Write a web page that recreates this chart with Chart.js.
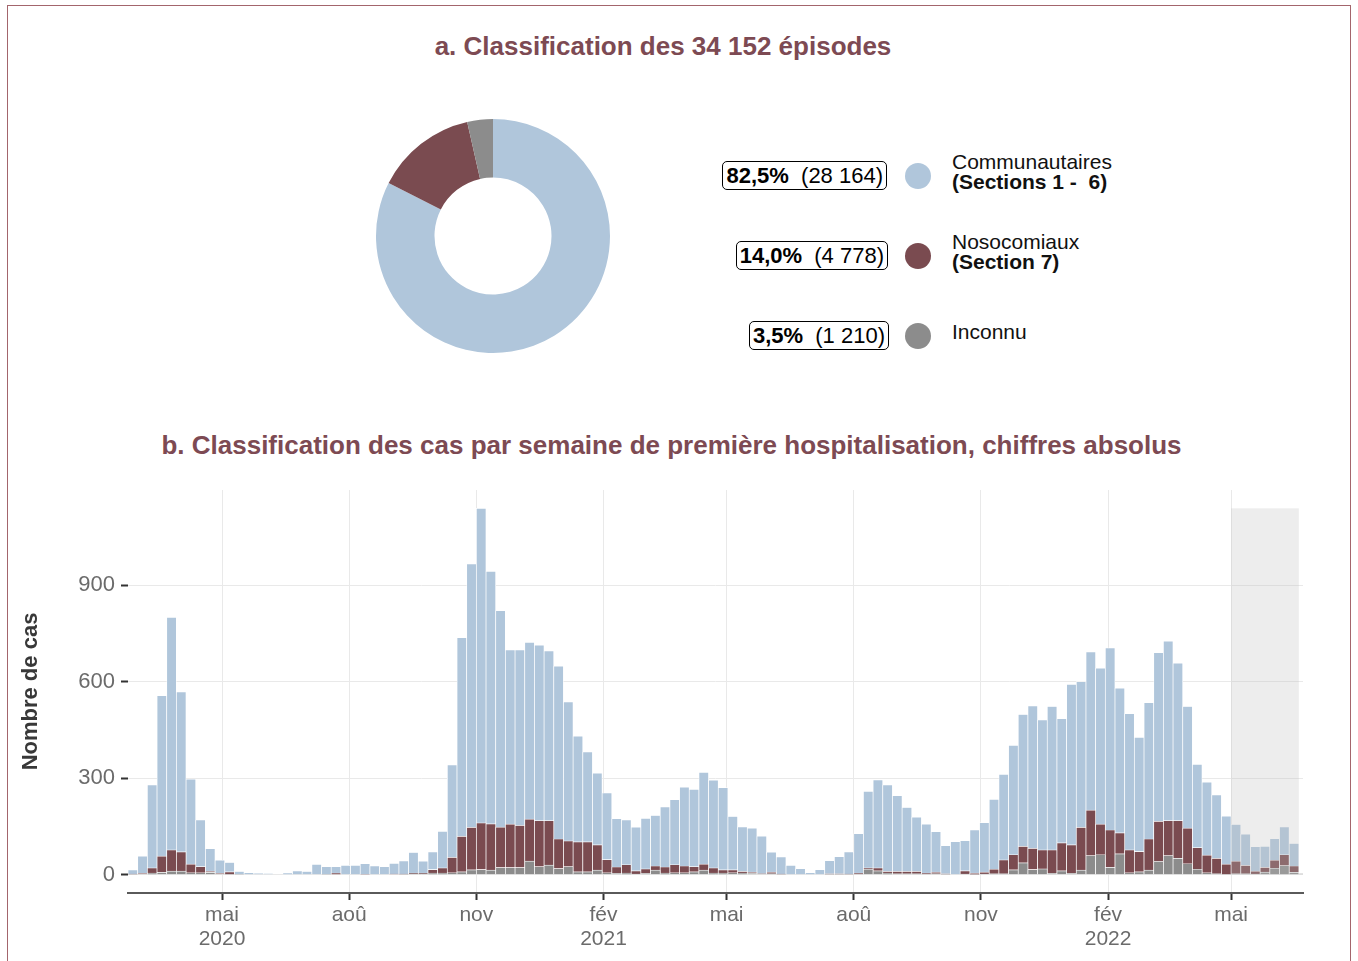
<!DOCTYPE html>
<html lang="fr">
<head>
<meta charset="utf-8">
<script src="https://cdn.jsdelivr.net/npm/chart.js@4.4.0/dist/chart.umd.min.js"></script>
<style>
  body { margin: 0; width: 1358px; height: 961px; overflow: hidden; background: #fff;
         position: relative; font-family: "Liberation Sans", Arial, sans-serif; }
  #frame { position: absolute; left: 7px; top: 5px; width: 1342px; height: 1000px;
           border: 1.5px solid #a3656c; }
  .title { position: absolute; left: 0; text-align: center; font-weight: bold;
           font-size: 26px; color: #7d4a53; }
  .pill { position: absolute; border: 1.5px solid #000; border-radius: 5px; padding: 0 3px;
          font-size: 22px; line-height: 27px; color: #000; white-space: pre; }
  .dot { position: absolute; width: 26px; height: 26px; border-radius: 50%; }
  .lab { position: absolute; font-size: 21px; line-height: 20px; color: #111; white-space: pre; }
  canvas { position: absolute; }
</style>
</head>
<body>
<div id="frame"></div>
<div class="title" style="top:31px; width:1326px;">a. Classification des 34 152 épisodes</div>
<canvas id="donut" width="240" height="240" style="left:373px; top:116px;"></canvas>
<div id="legend"></div>
<div class="title" style="top:430px; width:1343px;">b. Classification des cas par semaine de première hospitalisation, chiffres absolus</div>
<canvas id="bars" width="1358" height="491" style="left:0; top:470px;"></canvas>

<script>
// part a: totals
var pieLabels = ['Communautaires', 'Nosocomiaux', 'Inconnu'];
var pieSub = ['(Sections 1 -  6)', '(Section 7)', ''];
var pieCounts = [28164, 4778, 1210];
var piePct = ['82,5%', '14,0%', '3,5%'];
var pieCountText = ['(28 164)', '(4 778)', '(1 210)'];
var colors = ['#b0c6db', '#7a4b50', '#8c8c8c'];

// part b: weekly cases, first week starting 2020-02-23
var firstWeek = '2020-02-23';
var communautaires = [
  13, 54, 258, 499, 723, 497, 264, 145, 70, 41,
  29, 9, 6, 4, 3, 0, 5, 12, 10, 32,
  24, 20, 29, 29, 33, 27, 25, 33, 41, 64,
  37, 55, 114, 287, 618, 819, 978, 785, 673, 542,
  546, 549, 546, 528, 537, 432, 329, 280, 223, 207,
  150, 139, 136, 157, 157, 187, 202, 245, 240, 285,
  273, 256, 166, 139, 137, 117, 62, 53, 29, 19,
  6, 16, 41, 53, 69, 123, 238, 274, 269, 236,
  199, 169, 152, 126, 87, 103, 94, 134, 154, 217,
  266, 340, 410, 443, 404, 446, 386, 499, 453, 492,
  485, 566, 450, 424, 355, 424, 524, 558, 490, 378,
  259, 227, 197, 149, 114, 97, 76, 65, 67, 87,
  70, 0
];
var nosocomiaux = [
  1, 2, 16, 51, 66, 60, 27, 19, 4, 2,
  8, 0, 0, 0, 0, 0, 0, 0, 0, 0,
  0, 5, 0, 0, 1, 0, 0, 2, 1, 2,
  2, 11, 16, 48, 110, 132, 145, 144, 126, 135,
  131, 131, 143, 138, 92, 80, 93, 93, 79, 41,
  20, 26, 10, 14, 13, 19, 25, 21, 16, 19,
  16, 10, 9, 5, 4, 1, 5, 1, 0, 0,
  0, 0, 2, 2, 1, 3, 4, 9, 5, 7,
  7, 7, 3, 5, 2, 0, 10, 4, 6, 14,
  43, 47, 51, 66, 59, 73, 87, 89, 133, 142,
  95, 116, 65, 71, 63, 97, 125, 109, 117, 111,
  67, 55, 48, 32, 39, 26, 9, 15, 25, 34,
  20, 0
];
var inconnu = [
  1, 2, 5, 7, 11, 11, 6, 6, 7, 2,
  1, 1, 0, 0, 0, 0, 0, 0, 0, 0,
  1, 0, 0, 0, 0, 0, 0, 0, 1, 3,
  3, 5, 5, 6, 9, 15, 16, 14, 22, 22,
  22, 42, 25, 30, 19, 25, 9, 9, 14, 6,
  4, 5, 2, 4, 14, 5, 6, 6, 9, 14,
  5, 5, 6, 5, 4, 2, 3, 1, 0, 0,
  0, 0, 1, 1, 1, 2, 17, 12, 5, 3,
  3, 3, 2, 3, 1, 0, 2, 1, 2, 3,
  3, 15, 37, 16, 18, 4, 12, 4, 14, 59,
  62, 23, 65, 6, 9, 14, 41, 59, 51, 34,
  17, 6, 3, 1, 3, 3, 2, 8, 20, 28,
  7, 3
];
var monthTicks = ['2020-05-01', '2020-08-01', '2020-11-01', '2021-02-01', '2021-05-01',
                  '2021-08-01', '2021-11-01', '2022-02-01', '2022-05-01'];
var monthLabels = [['mai', '2020'], 'aoû', 'nov', ['fév', '2021'], 'mai',
                   'aoû', 'nov', ['fév', '2022'], 'mai'];
var yTicks = [0, 300, 600, 900];
var axisStart = '2020-02-23', axisEnd = '2022-06-22';
var shadeStart = '2022-05-01', shadeEnd = '2022-06-19'; // incomplete data period

function day(s) { return Date.parse(s + 'T00:00:00Z') / 86400000; }

// legend of part a
var legend = document.getElementById('legend');
var rowY = [176, 256, 336];
pieLabels.forEach(function (lab, i) {
  var p = document.createElement('div');
  p.className = 'pill';
  p.style.right = (1358 - 887 - i) + 'px';
  p.style.top = (rowY[i] - 15) + 'px';
  p.innerHTML = '<b>' + piePct[i] + '</b>  ' + pieCountText[i];
  legend.appendChild(p);
  var d = document.createElement('div');
  d.className = 'dot';
  d.style.left = '905px';
  d.style.top = (rowY[i] - 13) + 'px';
  d.style.background = colors[i];
  legend.appendChild(d);
  var t = document.createElement('div');
  t.className = 'lab';
  t.style.left = '952px';
  t.style.top = (rowY[i] - (pieSub[i] ? 24 : 14)) + 'px';
  t.innerHTML = lab + (pieSub[i] ? '<br><b>' + pieSub[i] + '</b>' : '');
  legend.appendChild(t);
});

new Chart(document.getElementById('donut'), {
  type: 'doughnut',
  data: {
    labels: pieLabels,
    datasets: [{ data: pieCounts, backgroundColor: colors, borderWidth: 0 }]
  },
  options: {
    responsive: false,
    animation: false,
    cutout: '50%',
    layout: { padding: 3 },
    plugins: { legend: { display: false }, tooltip: { enabled: false } }
  }
});

var x0 = day(firstWeek) + 3.5;
function series(vals) {
  return vals.map(function (v, i) { return { x: x0 + 7 * i, y: v }; });
}
var totals = communautaires.map(function (v, i) { return v + nosocomiaux[i] + inconnu[i]; });
var maxTotal = Math.max.apply(null, totals);

// grey box over the last weeks
var shadePlugin = {
  id: 'shade',
  afterDatasetsDraw: function (chart) {
    var ctx = chart.ctx, x = chart.scales.x, y = chart.scales.y;
    var a = x.getPixelForValue(day(shadeStart)), b = x.getPixelForValue(day(shadeEnd));
    var top = y.getPixelForValue(maxTotal), bot = y.getPixelForValue(0);
    ctx.save();
    ctx.fillStyle = 'rgba(190,190,190,0.28)';
    ctx.fillRect(a, top, b - a, bot - top);
    ctx.restore();
  }
};

var barStyle = { stack: 'week', borderColor: '#fff', borderWidth: 0.7,
                 categoryPercentage: 1, barPercentage: 1 };
new Chart(document.getElementById('bars'), {
  type: 'bar',
  data: {
    datasets: [
      Object.assign({ label: 'Inconnu', data: series(inconnu), backgroundColor: colors[2] }, barStyle),
      Object.assign({ label: 'Nosocomiaux', data: series(nosocomiaux), backgroundColor: colors[1] }, barStyle),
      Object.assign({ label: 'Communautaires', data: series(communautaires), backgroundColor: colors[0] }, barStyle)
    ]
  },
  options: {
    responsive: false,
    animation: false,
    layout: { padding: { top: 20, right: 55, left: 0, bottom: 0 } },
    plugins: { legend: { display: false }, tooltip: { enabled: false } },
    scales: {
      x: {
        type: 'linear',
        offset: false,
        min: day(axisStart),
        max: day(axisEnd),
        afterBuildTicks: function (s) { s.ticks = monthTicks.map(function (m) { return { value: day(m) }; }); },
        afterFit: function (s) { s.height = 68; },
        grid: { offset: false, color: '#e9e9e9', lineWidth: 1, tickColor: '#333', tickLength: 7, tickWidth: 2 },
        border: { display: true, color: '#5a5a5a', width: 2 },
        ticks: {
          autoSkip: false, maxRotation: 0, padding: 3, color: '#6b6b6b',
          font: { family: 'Liberation Sans', size: 21, lineHeight: 1.15 },
          callback: function (v, i) { return monthLabels[i]; }
        }
      },
      y: {
        stacked: true,
        min: -0.05 * maxTotal,
        max: 1.05 * maxTotal,
        afterBuildTicks: function (s) { s.ticks = yTicks.map(function (v) { return { value: v }; }); },
        afterFit: function (s) { s.width = 128; },
        grid: { color: '#e9e9e9', lineWidth: 1, tickColor: '#333', tickLength: 7, tickWidth: 2 },
        border: { display: false },
        ticks: { padding: 6, color: '#6b6b6b', font: { family: 'Liberation Sans', size: 22 } },
        title: {
          display: true, text: 'Nombre de cas', color: '#383838',
          font: { family: 'Liberation Sans', size: 22, weight: 'bold' },
          padding: { top: 18, bottom: 0 }
        }
      }
    }
  },
  plugins: [shadePlugin]
});
</script>
</body>
</html>
